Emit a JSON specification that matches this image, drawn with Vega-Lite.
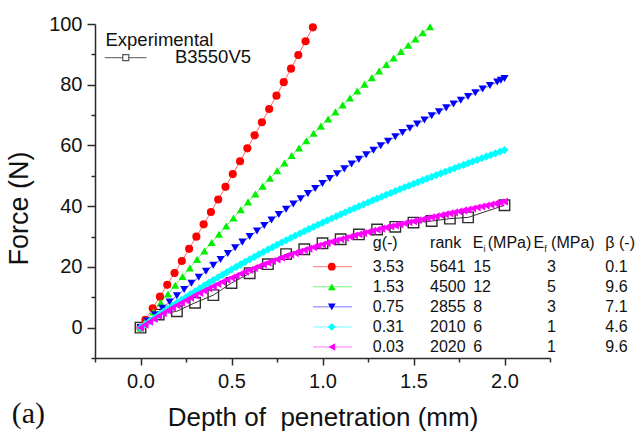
{
  "$schema": "https://vega.github.io/schema/vega-lite/v6.json",
  "width": 455,
  "height": 334,
  "autosize": {"type": "none"},
  "padding": {"left": 95, "top": 24, "right": 90, "bottom": 73},
  "background": "white",
  "config": {
    "font": "Liberation Sans",
    "view": {"stroke": null},
    "axis": {
      "grid": false,
      "domainColor": "#2a2a2a",
      "domainWidth": 1.5,
      "tickColor": "#2a2a2a",
      "tickWidth": 1.5,
      "labelFont": "Liberation Sans",
      "labelFontSize": 20,
      "labelColor": "#111111",
      "titleFont": "Liberation Sans",
      "titleFontWeight": "normal",
      "titleColor": "#111111",
      "labelOverlap": false,
      "labelFlush": false
    },
    "text": {"font": "Liberation Sans", "color": "#111111"}
  },
  "datasets": {
    "models": [
      {"g": "3.53", "depth": 0, "force": 0},
      {"g": "3.53", "depth": 0.027, "force": 2.55},
      {"g": "3.53", "depth": 0.067, "force": 6.37},
      {"g": "3.53", "depth": 0.107, "force": 10.21},
      {"g": "3.53", "depth": 0.147, "force": 14.09},
      {"g": "3.53", "depth": 0.187, "force": 18.01},
      {"g": "3.53", "depth": 0.227, "force": 21.96},
      {"g": "3.53", "depth": 0.267, "force": 25.94},
      {"g": "3.53", "depth": 0.307, "force": 29.96},
      {"g": "3.53", "depth": 0.347, "force": 34.01},
      {"g": "3.53", "depth": 0.387, "force": 38.10},
      {"g": "3.53", "depth": 0.427, "force": 42.22},
      {"g": "3.53", "depth": 0.467, "force": 46.37},
      {"g": "3.53", "depth": 0.507, "force": 50.56},
      {"g": "3.53", "depth": 0.547, "force": 54.78},
      {"g": "3.53", "depth": 0.587, "force": 59.04},
      {"g": "3.53", "depth": 0.627, "force": 63.33},
      {"g": "3.53", "depth": 0.667, "force": 67.66},
      {"g": "3.53", "depth": 0.707, "force": 72.02},
      {"g": "3.53", "depth": 0.747, "force": 76.41},
      {"g": "3.53", "depth": 0.787, "force": 80.84},
      {"g": "3.53", "depth": 0.827, "force": 85.30},
      {"g": "3.53", "depth": 0.867, "force": 89.80},
      {"g": "3.53", "depth": 0.907, "force": 94.33},
      {"g": "3.53", "depth": 0.947, "force": 98.90},

      {"g": "1.53", "depth": 0, "force": 0},
      {"g": "1.53", "depth": 0.031, "force": 2.31},
      {"g": "1.53", "depth": 0.071, "force": 5.26},
      {"g": "1.53", "depth": 0.111, "force": 8.20},
      {"g": "1.53", "depth": 0.151, "force": 11.10},
      {"g": "1.53", "depth": 0.191, "force": 13.98},
      {"g": "1.53", "depth": 0.231, "force": 16.84},
      {"g": "1.53", "depth": 0.271, "force": 19.67},
      {"g": "1.53", "depth": 0.311, "force": 22.48},
      {"g": "1.53", "depth": 0.351, "force": 25.26},
      {"g": "1.53", "depth": 0.391, "force": 28.02},
      {"g": "1.53", "depth": 0.431, "force": 30.75},
      {"g": "1.53", "depth": 0.471, "force": 33.45},
      {"g": "1.53", "depth": 0.511, "force": 36.14},
      {"g": "1.53", "depth": 0.551, "force": 38.79},
      {"g": "1.53", "depth": 0.591, "force": 41.42},
      {"g": "1.53", "depth": 0.631, "force": 44.03},
      {"g": "1.53", "depth": 0.671, "force": 46.61},
      {"g": "1.53", "depth": 0.711, "force": 49.17},
      {"g": "1.53", "depth": 0.751, "force": 51.70},
      {"g": "1.53", "depth": 0.791, "force": 54.21},
      {"g": "1.53", "depth": 0.831, "force": 56.69},
      {"g": "1.53", "depth": 0.871, "force": 59.15},
      {"g": "1.53", "depth": 0.911, "force": 61.58},
      {"g": "1.53", "depth": 0.951, "force": 63.99},
      {"g": "1.53", "depth": 0.991, "force": 66.37},
      {"g": "1.53", "depth": 1.031, "force": 68.73},
      {"g": "1.53", "depth": 1.071, "force": 71.06},
      {"g": "1.53", "depth": 1.111, "force": 73.36},
      {"g": "1.53", "depth": 1.151, "force": 75.65},
      {"g": "1.53", "depth": 1.191, "force": 77.90},
      {"g": "1.53", "depth": 1.231, "force": 80.14},
      {"g": "1.53", "depth": 1.271, "force": 82.34},
      {"g": "1.53", "depth": 1.311, "force": 84.53},
      {"g": "1.53", "depth": 1.351, "force": 86.68},
      {"g": "1.53", "depth": 1.391, "force": 88.82},
      {"g": "1.53", "depth": 1.431, "force": 90.92},
      {"g": "1.53", "depth": 1.471, "force": 93.01},
      {"g": "1.53", "depth": 1.511, "force": 95.06},
      {"g": "1.53", "depth": 1.551, "force": 97.10},
      {"g": "1.53", "depth": 1.591, "force": 99.10},

      {"g": "0.75", "depth": 0, "force": 0},
      {"g": "0.75", "depth": 0.04, "force": 2.15},
      {"g": "0.75", "depth": 0.08, "force": 4.27},
      {"g": "0.75", "depth": 0.12, "force": 6.38},
      {"g": "0.75", "depth": 0.16, "force": 8.46},
      {"g": "0.75", "depth": 0.20, "force": 10.52},
      {"g": "0.75", "depth": 0.24, "force": 12.56},
      {"g": "0.75", "depth": 0.28, "force": 14.59},
      {"g": "0.75", "depth": 0.32, "force": 16.59},
      {"g": "0.75", "depth": 0.36, "force": 18.57},
      {"g": "0.75", "depth": 0.40, "force": 20.53},
      {"g": "0.75", "depth": 0.44, "force": 22.47},
      {"g": "0.75", "depth": 0.48, "force": 24.39},
      {"g": "0.75", "depth": 0.52, "force": 26.29},
      {"g": "0.75", "depth": 0.56, "force": 28.16},
      {"g": "0.75", "depth": 0.60, "force": 30.02},
      {"g": "0.75", "depth": 0.64, "force": 31.86},
      {"g": "0.75", "depth": 0.68, "force": 33.67},
      {"g": "0.75", "depth": 0.72, "force": 35.47},
      {"g": "0.75", "depth": 0.76, "force": 37.24},
      {"g": "0.75", "depth": 0.80, "force": 39.00},
      {"g": "0.75", "depth": 0.84, "force": 40.73},
      {"g": "0.75", "depth": 0.88, "force": 42.45},
      {"g": "0.75", "depth": 0.92, "force": 44.14},
      {"g": "0.75", "depth": 0.96, "force": 45.81},
      {"g": "0.75", "depth": 1.00, "force": 47.46},
      {"g": "0.75", "depth": 1.04, "force": 49.09},
      {"g": "0.75", "depth": 1.08, "force": 50.70},
      {"g": "0.75", "depth": 1.12, "force": 52.29},
      {"g": "0.75", "depth": 1.16, "force": 53.86},
      {"g": "0.75", "depth": 1.20, "force": 55.41},
      {"g": "0.75", "depth": 1.24, "force": 56.93},
      {"g": "0.75", "depth": 1.28, "force": 58.44},
      {"g": "0.75", "depth": 1.32, "force": 59.93},
      {"g": "0.75", "depth": 1.36, "force": 61.39},
      {"g": "0.75", "depth": 1.40, "force": 62.84},
      {"g": "0.75", "depth": 1.44, "force": 64.26},
      {"g": "0.75", "depth": 1.48, "force": 65.67},
      {"g": "0.75", "depth": 1.52, "force": 67.05},
      {"g": "0.75", "depth": 1.56, "force": 68.41},
      {"g": "0.75", "depth": 1.60, "force": 69.75},
      {"g": "0.75", "depth": 1.64, "force": 71.08},
      {"g": "0.75", "depth": 1.68, "force": 72.38},
      {"g": "0.75", "depth": 1.72, "force": 73.66},
      {"g": "0.75", "depth": 1.76, "force": 74.92},
      {"g": "0.75", "depth": 1.80, "force": 76.15},
      {"g": "0.75", "depth": 1.84, "force": 77.37},
      {"g": "0.75", "depth": 1.88, "force": 78.57},
      {"g": "0.75", "depth": 1.92, "force": 79.75},
      {"g": "0.75", "depth": 1.96, "force": 80.90},
      {"g": "0.75", "depth": 1.98, "force": 81.47},
      {"g": "0.75", "depth": 2.00, "force": 82.04},

      {"g": "0.31", "depth": 0, "force": 0},
      {"g": "0.31", "depth": 0.025, "force": 1.06},
      {"g": "0.31", "depth": 0.05, "force": 2.11},
      {"g": "0.31", "depth": 0.075, "force": 3.15},
      {"g": "0.31", "depth": 0.1, "force": 4.18},
      {"g": "0.31", "depth": 0.125, "force": 5.19},
      {"g": "0.31", "depth": 0.15, "force": 6.20},
      {"g": "0.31", "depth": 0.175, "force": 7.19},
      {"g": "0.31", "depth": 0.2, "force": 8.17},
      {"g": "0.31", "depth": 0.225, "force": 9.14},
      {"g": "0.31", "depth": 0.25, "force": 10.10},
      {"g": "0.31", "depth": 0.275, "force": 11.05},
      {"g": "0.31", "depth": 0.3, "force": 11.99},
      {"g": "0.31", "depth": 0.325, "force": 12.92},
      {"g": "0.31", "depth": 0.35, "force": 13.84},
      {"g": "0.31", "depth": 0.375, "force": 14.75},
      {"g": "0.31", "depth": 0.4, "force": 15.65},
      {"g": "0.31", "depth": 0.425, "force": 16.54},
      {"g": "0.31", "depth": 0.45, "force": 17.41},
      {"g": "0.31", "depth": 0.475, "force": 18.28},
      {"g": "0.31", "depth": 0.5, "force": 19.14},
      {"g": "0.31", "depth": 0.525, "force": 20.00},
      {"g": "0.31", "depth": 0.55, "force": 20.84},
      {"g": "0.31", "depth": 0.575, "force": 21.67},
      {"g": "0.31", "depth": 0.6, "force": 22.50},
      {"g": "0.31", "depth": 0.625, "force": 23.31},
      {"g": "0.31", "depth": 0.65, "force": 24.12},
      {"g": "0.31", "depth": 0.675, "force": 24.92},
      {"g": "0.31", "depth": 0.7, "force": 25.70},
      {"g": "0.31", "depth": 0.725, "force": 26.49},
      {"g": "0.31", "depth": 0.75, "force": 27.26},
      {"g": "0.31", "depth": 0.775, "force": 28.03},
      {"g": "0.31", "depth": 0.8, "force": 28.78},
      {"g": "0.31", "depth": 0.825, "force": 29.53},
      {"g": "0.31", "depth": 0.85, "force": 30.28},
      {"g": "0.31", "depth": 0.875, "force": 31.01},
      {"g": "0.31", "depth": 0.9, "force": 31.74},
      {"g": "0.31", "depth": 0.925, "force": 32.46},
      {"g": "0.31", "depth": 0.95, "force": 33.17},
      {"g": "0.31", "depth": 0.975, "force": 33.88},
      {"g": "0.31", "depth": 1.0, "force": 34.58},
      {"g": "0.31", "depth": 1.025, "force": 35.27},
      {"g": "0.31", "depth": 1.05, "force": 35.96},
      {"g": "0.31", "depth": 1.075, "force": 36.64},
      {"g": "0.31", "depth": 1.1, "force": 37.31},
      {"g": "0.31", "depth": 1.125, "force": 37.98},
      {"g": "0.31", "depth": 1.15, "force": 38.64},
      {"g": "0.31", "depth": 1.175, "force": 39.29},
      {"g": "0.31", "depth": 1.2, "force": 39.94},
      {"g": "0.31", "depth": 1.225, "force": 40.59},
      {"g": "0.31", "depth": 1.25, "force": 41.23},
      {"g": "0.31", "depth": 1.275, "force": 41.86},
      {"g": "0.31", "depth": 1.3, "force": 42.49},
      {"g": "0.31", "depth": 1.325, "force": 43.11},
      {"g": "0.31", "depth": 1.35, "force": 43.73},
      {"g": "0.31", "depth": 1.375, "force": 44.34},
      {"g": "0.31", "depth": 1.4, "force": 44.95},
      {"g": "0.31", "depth": 1.425, "force": 45.56},
      {"g": "0.31", "depth": 1.45, "force": 46.16},
      {"g": "0.31", "depth": 1.475, "force": 46.75},
      {"g": "0.31", "depth": 1.5, "force": 47.34},
      {"g": "0.31", "depth": 1.525, "force": 47.93},
      {"g": "0.31", "depth": 1.55, "force": 48.51},
      {"g": "0.31", "depth": 1.575, "force": 49.09},
      {"g": "0.31", "depth": 1.6, "force": 49.67},
      {"g": "0.31", "depth": 1.625, "force": 50.24},
      {"g": "0.31", "depth": 1.65, "force": 50.81},
      {"g": "0.31", "depth": 1.675, "force": 51.37},
      {"g": "0.31", "depth": 1.7, "force": 51.93},
      {"g": "0.31", "depth": 1.725, "force": 52.49},
      {"g": "0.31", "depth": 1.75, "force": 53.05},
      {"g": "0.31", "depth": 1.775, "force": 53.60},
      {"g": "0.31", "depth": 1.8, "force": 54.15},
      {"g": "0.31", "depth": 1.825, "force": 54.70},
      {"g": "0.31", "depth": 1.85, "force": 55.25},
      {"g": "0.31", "depth": 1.875, "force": 55.79},
      {"g": "0.31", "depth": 1.9, "force": 56.34},
      {"g": "0.31", "depth": 1.925, "force": 56.87},
      {"g": "0.31", "depth": 1.95, "force": 57.41},
      {"g": "0.31", "depth": 1.975, "force": 57.95},
      {"g": "0.31", "depth": 2.0, "force": 58.48},

      {"g": "0.03", "depth": 0, "force": 0},
      {"g": "0.03", "depth": 0.025, "force": 0.99},
      {"g": "0.03", "depth": 0.05, "force": 1.95},
      {"g": "0.03", "depth": 0.075, "force": 2.90},
      {"g": "0.03", "depth": 0.1, "force": 3.83},
      {"g": "0.03", "depth": 0.125, "force": 4.74},
      {"g": "0.03", "depth": 0.15, "force": 5.64},
      {"g": "0.03", "depth": 0.175, "force": 6.51},
      {"g": "0.03", "depth": 0.2, "force": 7.37},
      {"g": "0.03", "depth": 0.225, "force": 8.21},
      {"g": "0.03", "depth": 0.25, "force": 9.04},
      {"g": "0.03", "depth": 0.275, "force": 9.85},
      {"g": "0.03", "depth": 0.3, "force": 10.64},
      {"g": "0.03", "depth": 0.325, "force": 11.42},
      {"g": "0.03", "depth": 0.35, "force": 12.18},
      {"g": "0.03", "depth": 0.375, "force": 12.93},
      {"g": "0.03", "depth": 0.4, "force": 13.66},
      {"g": "0.03", "depth": 0.425, "force": 14.38},
      {"g": "0.03", "depth": 0.45, "force": 15.08},
      {"g": "0.03", "depth": 0.475, "force": 15.77},
      {"g": "0.03", "depth": 0.5, "force": 16.44},
      {"g": "0.03", "depth": 0.525, "force": 17.10},
      {"g": "0.03", "depth": 0.55, "force": 17.75},
      {"g": "0.03", "depth": 0.575, "force": 18.38},
      {"g": "0.03", "depth": 0.6, "force": 19.00},
      {"g": "0.03", "depth": 0.625, "force": 19.61},
      {"g": "0.03", "depth": 0.65, "force": 20.21},
      {"g": "0.03", "depth": 0.675, "force": 20.79},
      {"g": "0.03", "depth": 0.7, "force": 21.36},
      {"g": "0.03", "depth": 0.725, "force": 21.92},
      {"g": "0.03", "depth": 0.75, "force": 22.47},
      {"g": "0.03", "depth": 0.775, "force": 23.01},
      {"g": "0.03", "depth": 0.8, "force": 23.54},
      {"g": "0.03", "depth": 0.825, "force": 24.06},
      {"g": "0.03", "depth": 0.85, "force": 24.56},
      {"g": "0.03", "depth": 0.875, "force": 25.06},
      {"g": "0.03", "depth": 0.9, "force": 25.55},
      {"g": "0.03", "depth": 0.925, "force": 26.02},
      {"g": "0.03", "depth": 0.95, "force": 26.49},
      {"g": "0.03", "depth": 0.975, "force": 26.95},
      {"g": "0.03", "depth": 1.0, "force": 27.40},
      {"g": "0.03", "depth": 1.025, "force": 27.85},
      {"g": "0.03", "depth": 1.05, "force": 28.28},
      {"g": "0.03", "depth": 1.075, "force": 28.71},
      {"g": "0.03", "depth": 1.1, "force": 29.13},
      {"g": "0.03", "depth": 1.125, "force": 29.54},
      {"g": "0.03", "depth": 1.15, "force": 29.94},
      {"g": "0.03", "depth": 1.175, "force": 30.34},
      {"g": "0.03", "depth": 1.2, "force": 30.74},
      {"g": "0.03", "depth": 1.225, "force": 31.12},
      {"g": "0.03", "depth": 1.25, "force": 31.50},
      {"g": "0.03", "depth": 1.275, "force": 31.88},
      {"g": "0.03", "depth": 1.3, "force": 32.25},
      {"g": "0.03", "depth": 1.325, "force": 32.61},
      {"g": "0.03", "depth": 1.35, "force": 32.97},
      {"g": "0.03", "depth": 1.375, "force": 33.32},
      {"g": "0.03", "depth": 1.4, "force": 33.67},
      {"g": "0.03", "depth": 1.425, "force": 34.02},
      {"g": "0.03", "depth": 1.45, "force": 34.36},
      {"g": "0.03", "depth": 1.475, "force": 34.70},
      {"g": "0.03", "depth": 1.5, "force": 35.04},
      {"g": "0.03", "depth": 1.525, "force": 35.37},
      {"g": "0.03", "depth": 1.55, "force": 35.70},
      {"g": "0.03", "depth": 1.575, "force": 36.03},
      {"g": "0.03", "depth": 1.6, "force": 36.36},
      {"g": "0.03", "depth": 1.625, "force": 36.68},
      {"g": "0.03", "depth": 1.65, "force": 37.00},
      {"g": "0.03", "depth": 1.675, "force": 37.32},
      {"g": "0.03", "depth": 1.7, "force": 37.64},
      {"g": "0.03", "depth": 1.725, "force": 37.96},
      {"g": "0.03", "depth": 1.75, "force": 38.28},
      {"g": "0.03", "depth": 1.775, "force": 38.60},
      {"g": "0.03", "depth": 1.8, "force": 38.92},
      {"g": "0.03", "depth": 1.825, "force": 39.24},
      {"g": "0.03", "depth": 1.85, "force": 39.56},
      {"g": "0.03", "depth": 1.875, "force": 39.88},
      {"g": "0.03", "depth": 1.9, "force": 40.20},
      {"g": "0.03", "depth": 1.925, "force": 40.52},
      {"g": "0.03", "depth": 1.95, "force": 40.85},
      {"g": "0.03", "depth": 1.975, "force": 41.17},
      {"g": "0.03", "depth": 2.0, "force": 41.50}
    ],
    "experiment": [
      {"depth": 0.0, "force": 0.0},
      {"depth": 0.1, "force": 4.3},
      {"depth": 0.2, "force": 5.4},
      {"depth": 0.3, "force": 8.2},
      {"depth": 0.4, "force": 10.7},
      {"depth": 0.5, "force": 14.7},
      {"depth": 0.6, "force": 17.9},
      {"depth": 0.7, "force": 20.9},
      {"depth": 0.8, "force": 24.2},
      {"depth": 0.9, "force": 25.8},
      {"depth": 1.0, "force": 27.8},
      {"depth": 1.1, "force": 29.1},
      {"depth": 1.2, "force": 30.7},
      {"depth": 1.3, "force": 32.3},
      {"depth": 1.4, "force": 33.2},
      {"depth": 1.5, "force": 34.6},
      {"depth": 1.6, "force": 35.1},
      {"depth": 1.7, "force": 35.9},
      {"depth": 1.8, "force": 36.3},
      {"depth": 2.0, "force": 40.3}
    ],
    "params": [
      {"g": "3.53", "rank": 5641, "Ei": 15, "Ef": 3, "beta": "0.1"},
      {"g": "1.53", "rank": 4500, "Ei": 12, "Ef": 5, "beta": "9.6"},
      {"g": "0.75", "rank": 2855, "Ei": 8, "Ef": 3, "beta": "7.1"},
      {"g": "0.31", "rank": 2010, "Ei": 6, "Ef": 1, "beta": "4.6"},
      {"g": "0.03", "rank": 2020, "Ei": 6, "Ef": 1, "beta": "9.6"}
    ]
  },
  "layer": [
    {
      "layer": [
        {
          "data": {"name": "experiment"},
          "mark": {"type": "line", "color": "#333333", "strokeWidth": 1},
          "encoding": {
            "x": {
              "field": "depth",
              "type": "quantitative",
              "scale": {"domain": [-0.25, 2.25], "nice": false, "zero": false},
              "axis": {
                "values": [-0.25, 0, 0.25, 0.5, 0.75, 1, 1.25, 1.5, 1.75, 2, 2.25],
                "format": ".1f",
                "labelExpr": "abs(datum.value * 2 - round(datum.value * 2)) > 0.01 ? '' : datum.label",
                "tickSize": {"condition": {"test": "abs(datum.value * 2 - round(datum.value * 2)) > 0.01", "value": 4}, "value": 7},
                "labelPadding": 6,
                "title": "Depth of\u00a0 penetration (mm)",
                "titleFontSize": 26,
                "titleBaseline": "alphabetic",
                "titleY": 67
              }
            },
            "y": {
              "field": "force",
              "type": "quantitative",
              "scale": {"domain": [-10, 100], "nice": false, "zero": false},
              "axis": {
                "tickCount": 11,
                "labelExpr": "abs(datum.value / 20 - round(datum.value / 20)) > 0.01 ? '' : datum.label",
                "tickSize": {"condition": {"test": "abs(datum.value / 20 - round(datum.value / 20)) > 0.01", "value": 4}, "value": 8},
                "labelPadding": 5,
                "title": "Force (N)",
                "titleFontSize": 27,
                "titleX": -62,
                "titleY": 184
              }
            }
          }
        },
        {
          "data": {"name": "experiment"},
          "mark": {"type": "point", "shape": "square", "size": 110, "filled": false, "stroke": "#2e2e2e", "strokeWidth": 1.4, "opacity": 1},
          "encoding": {
            "x": {"field": "depth", "type": "quantitative"},
            "y": {"field": "force", "type": "quantitative"}
          }
        },
        {
          "data": {"name": "models"},
          "mark": {"type": "line", "strokeWidth": 1, "opacity": 0.6},
          "encoding": {
            "x": {"field": "depth", "type": "quantitative"},
            "y": {"field": "force", "type": "quantitative"},
            "color": {
              "field": "g",
              "type": "nominal",
              "scale": {
                "domain": ["3.53", "1.53", "0.75", "0.31", "0.03"],
                "range": ["#ff0000", "#00f000", "#0000ff", "#00ffff", "#ff00ff"]
              },
              "legend": null
            }
          }
        },
        {
          "data": {"name": "models"},
          "mark": {"type": "point", "filled": true, "opacity": 1, "size": 66},
          "encoding": {
            "x": {"field": "depth", "type": "quantitative"},
            "y": {"field": "force", "type": "quantitative"},
            "color": {"field": "g", "type": "nominal", "legend": null},
            "shape": {
              "field": "g",
              "type": "nominal",
              "scale": {
                "domain": ["3.53", "1.53", "0.75", "0.31", "0.03"],
                "range": ["circle", "triangle-up", "triangle-down", "diamond", "triangle-left"]
              },
              "legend": null
            }
          }
        },
        {
          "data": {"values": [{}]},
          "mark": {"type": "text", "align": "left", "baseline": "alphabetic", "fontSize": 18.5, "clip": false},
          "encoding": {
            "x": {"datum": -0.1925},
            "y": {"datum": 92.8},
            "text": {"value": "Experimental"}
          }
        },
        {
          "data": {"values": [{}]},
          "mark": {"type": "rule", "color": "#555555", "strokeWidth": 1, "clip": false},
          "encoding": {
            "x": {"datum": -0.196},
            "x2": {"datum": 0.033},
            "y": {"datum": 88.9}
          }
        },
        {
          "data": {"values": [{}]},
          "mark": {"type": "point", "shape": "square", "size": 36, "filled": true, "fill": "white", "stroke": "#555555", "strokeWidth": 1.2, "opacity": 1, "clip": false},
          "encoding": {
            "x": {"datum": -0.081},
            "y": {"datum": 88.9}
          }
        },
        {
          "data": {"values": [{}]},
          "mark": {"type": "text", "align": "left", "baseline": "alphabetic", "fontSize": 18.5, "clip": false},
          "encoding": {
            "x": {"datum": 0.189},
            "y": {"datum": 87.0},
            "text": {"value": "B3550V5"}
          }
        },
        {
          "data": {"values": [{}]},
          "mark": {"type": "text", "align": "left", "baseline": "alphabetic", "font": "Liberation Serif", "fontSize": 30, "clip": false},
          "encoding": {
            "x": {"datum": -0.708},
            "y": {"datum": -31.3},
            "text": {"value": "(a)"}
          }
        }
      ]
    },
    {
      "layer": [
        {
          "data": {"name": "params"},
          "mark": {"type": "rule", "strokeWidth": 1, "opacity": 0.55, "clip": false},
          "encoding": {
            "x": {"datum": 0.948},
            "x2": {"datum": 1.161},
            "y": {
              "field": "g",
              "type": "ordinal",
              "scale": {"type": "point", "domain": ["3.53", "1.53", "0.75", "0.31", "0.03"], "range": [242.7, 323], "padding": 0},
              "axis": null
            },
            "color": {"field": "g", "type": "nominal", "legend": null}
          }
        },
        {
          "data": {"name": "params"},
          "mark": {"type": "point", "filled": true, "opacity": 1, "size": 60, "clip": false},
          "encoding": {
            "x": {"datum": 1.051},
            "y": {"field": "g", "type": "ordinal", "axis": null},
            "color": {"field": "g", "type": "nominal", "legend": null},
            "shape": {"field": "g", "type": "nominal", "legend": null}
          }
        },
        {
          "data": {"name": "params"},
          "mark": {"type": "text", "align": "left", "baseline": "middle", "fontSize": 16, "clip": false},
          "encoding": {
            "x": {"datum": 1.276},
            "y": {"field": "g", "type": "ordinal", "axis": null},
            "text": {"field": "g"}
          }
        },
        {
          "data": {"name": "params"},
          "mark": {"type": "text", "align": "left", "baseline": "middle", "fontSize": 16, "clip": false},
          "encoding": {
            "x": {"datum": 1.591},
            "y": {"field": "g", "type": "ordinal", "axis": null},
            "text": {"field": "rank"}
          }
        },
        {
          "data": {"name": "params"},
          "mark": {"type": "text", "align": "left", "baseline": "middle", "fontSize": 16, "clip": false},
          "encoding": {
            "x": {"datum": 1.828},
            "y": {"field": "g", "type": "ordinal", "axis": null},
            "text": {"field": "Ei"}
          }
        },
        {
          "data": {"name": "params"},
          "mark": {"type": "text", "align": "left", "baseline": "middle", "fontSize": 16, "clip": false},
          "encoding": {
            "x": {"datum": 2.233},
            "y": {"field": "g", "type": "ordinal", "axis": null},
            "text": {"field": "Ef"}
          }
        },
        {
          "data": {"name": "params"},
          "mark": {"type": "text", "align": "left", "baseline": "middle", "fontSize": 16, "clip": false},
          "encoding": {
            "x": {"datum": 2.554},
            "y": {"field": "g", "type": "ordinal", "axis": null},
            "text": {"field": "beta"}
          }
        },
        {
          "data": {"values": [{}]},
          "mark": {"type": "text", "align": "left", "baseline": "middle", "fontSize": 16, "dy": -24, "clip": false},
          "encoding": {
            "x": {"datum": 1.276},
            "y": {"datum": "3.53", "type": "ordinal", "axis": null},
            "text": {"value": "g(-)"}
          }
        },
        {
          "data": {"values": [{}]},
          "mark": {"type": "text", "align": "left", "baseline": "middle", "fontSize": 16, "dy": -24, "clip": false},
          "encoding": {
            "x": {"datum": 1.591},
            "y": {"datum": "3.53", "type": "ordinal", "axis": null},
            "text": {"value": "rank"}
          }
        },
        {
          "data": {"values": [{}]},
          "mark": {"type": "text", "align": "left", "baseline": "middle", "fontSize": 16, "dy": -24, "clip": false},
          "encoding": {
            "x": {"datum": 1.826},
            "y": {"datum": "3.53", "type": "ordinal", "axis": null},
            "text": {"value": "E"}
          }
        },
        {
          "data": {"values": [{}]},
          "mark": {"type": "text", "align": "left", "baseline": "middle", "fontSize": 9, "dy": -18, "clip": false},
          "encoding": {
            "x": {"datum": 1.885},
            "y": {"datum": "3.53", "type": "ordinal", "axis": null},
            "text": {"value": "i"}
          }
        },
        {
          "data": {"values": [{}]},
          "mark": {"type": "text", "align": "left", "baseline": "middle", "fontSize": 16, "dy": -24, "clip": false},
          "encoding": {
            "x": {"datum": 1.908},
            "y": {"datum": "3.53", "type": "ordinal", "axis": null},
            "text": {"value": "(MPa)"}
          }
        },
        {
          "data": {"values": [{}]},
          "mark": {"type": "text", "align": "left", "baseline": "middle", "fontSize": 16, "dy": -24, "clip": false},
          "encoding": {
            "x": {"datum": 2.16},
            "y": {"datum": "3.53", "type": "ordinal", "axis": null},
            "text": {"value": "E"}
          }
        },
        {
          "data": {"values": [{}]},
          "mark": {"type": "text", "align": "left", "baseline": "middle", "fontSize": 9, "dy": -18, "clip": false},
          "encoding": {
            "x": {"datum": 2.219},
            "y": {"datum": "3.53", "type": "ordinal", "axis": null},
            "text": {"value": "f"}
          }
        },
        {
          "data": {"values": [{}]},
          "mark": {"type": "text", "align": "left", "baseline": "middle", "fontSize": 16, "dy": -24, "clip": false},
          "encoding": {
            "x": {"datum": 2.256},
            "y": {"datum": "3.53", "type": "ordinal", "axis": null},
            "text": {"value": "(MPa)"}
          }
        },
        {
          "data": {"values": [{}]},
          "mark": {"type": "text", "align": "left", "baseline": "middle", "fontSize": 16, "dy": -24, "clip": false},
          "encoding": {
            "x": {"datum": 2.554},
            "y": {"datum": "3.53", "type": "ordinal", "axis": null},
            "text": {"value": "β (-)"}
          }
        }
      ]
    }
  ],
  "resolve": {"scale": {"y": "independent"}}
}
